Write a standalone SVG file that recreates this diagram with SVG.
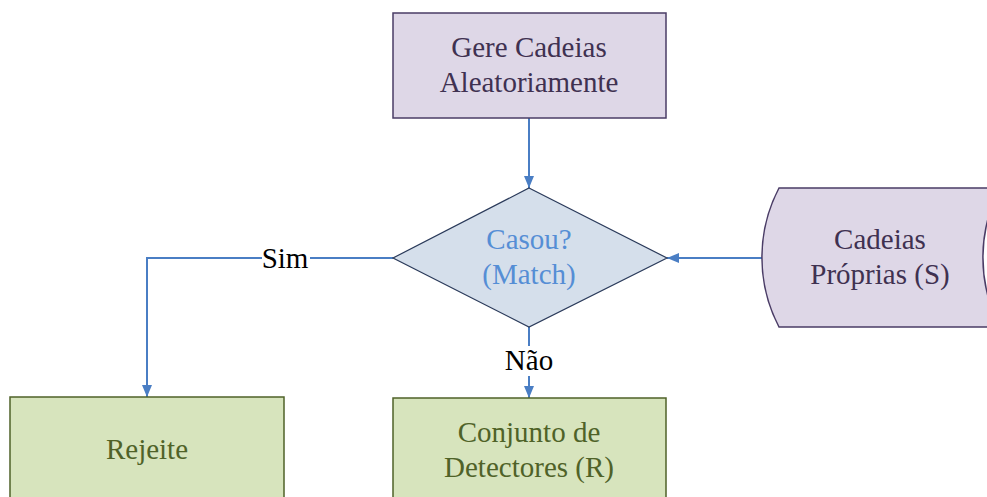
<svg xmlns="http://www.w3.org/2000/svg" width="987" height="497" viewBox="0 0 987 497">
<style>
text{font-family:"Liberation Serif","Times New Roman",serif;font-size:29px;text-anchor:middle}
.purple{fill:#DED7E7;stroke:#4A3C66;stroke-width:1.5}
.ptext{fill:#3F3151}
.green{fill:#D7E4BD;stroke:#4F6228;stroke-width:1.5}
.gtext{fill:#4F6228}
.dia{fill:#D5DFEB;stroke:#2A3A5A;stroke-width:1.2}
.dtext{fill:#558ED5}
.conn{fill:none;stroke:#4A7EC4;stroke-width:2}
.lbl{fill:#000}
</style>
<defs>
<marker id="ah" viewBox="0 0 12 10" refX="12" refY="5" markerWidth="12" markerHeight="10" markerUnits="userSpaceOnUse" orient="auto">
<path d="M0,0 L12,5 L0,10 Z" fill="#4A7EC4"/>
</marker>
</defs>
<g id="connectors">
<path class="conn" d="M529,118 V188" marker-end="url(#ah)"/>
<path class="conn" d="M762,258 H667" marker-end="url(#ah)"/>
<path class="conn" d="M393,258 H147 V397" marker-end="url(#ah)"/>
<path class="conn" d="M529,327 V398" marker-end="url(#ah)"/>
<rect x="262" y="244" width="48" height="30" fill="#fff"/>
<text class="lbl" x="285" y="268">Sim</text>
<rect x="503" y="346" width="52" height="30" fill="#fff"/>
<text class="lbl" x="529" y="370">Não</text>
</g>
<g id="gere">
<rect class="purple" x="393" y="13" width="273" height="105"/>
<text class="ptext" x="529" y="57">Gere Cadeias</text>
<text class="ptext" x="529" y="92">Aleatoriamente</text>
</g>
<g id="casou">
<path class="dia" d="M529,188 L667,258 L529,327 L393,258 Z"/>
<text class="dtext" x="529" y="249">Casou?</text>
<text class="dtext" x="529" y="284">(Match)</text>
</g>
<g id="cadeias">
<path class="purple" d="M779,188 H1000 A150,150 0 0 0 1000,327 H779 A150,150 0 0 1 779,188 Z"/>
<text class="ptext" x="880" y="249">Cadeias</text>
<text class="ptext" x="880" y="284">Próprias (S)</text>
</g>
<g id="rejeite">
<rect class="green" x="10" y="397" width="274" height="110"/>
<text class="gtext" x="147" y="459">Rejeite</text>
</g>
<g id="conjunto">
<rect class="green" x="393" y="398" width="273" height="110"/>
<text class="gtext" x="529" y="442">Conjunto de</text>
<text class="gtext" x="529" y="477">Detectores (R)</text>
</g>
</svg>
